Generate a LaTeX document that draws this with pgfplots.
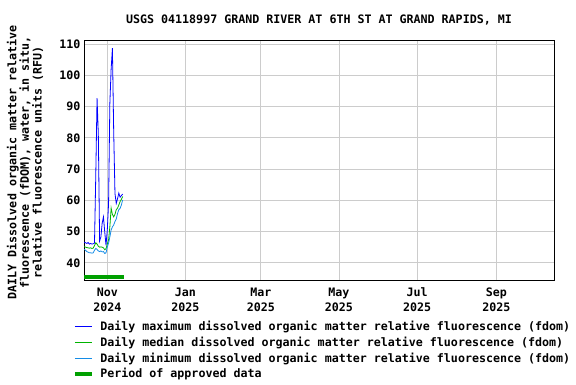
\documentclass[border=0pt]{standalone}
\usepackage{pgfplots}
\pgfplotsset{compat=1.18}
\usepackage{fontspec}
\setmainfont{DejaVu Sans Mono}
\definecolor{cmax}{RGB}{0,0,255}
\definecolor{cmed}{RGB}{0,180,0}
\definecolor{cmin}{RGB}{20,140,230}
\definecolor{capp}{RGB}{0,160,0}
\newcommand{\lf}{\fontsize{11.65}{15}\selectfont\bfseries}
\begin{document}
\begin{tikzpicture}
\begin{axis}[
  at={(0pt,0pt)}, anchor=south west,
  scale only axis, width=470pt, height=240pt,
  xmin=-18.2, xmax=349, ymin=34.5, ymax=111.3,
  xtick={0,61,120,181,242,304},
  xticklabels={\strut Nov\\2024,\strut Jan\\2025,\strut Mar\\2025,\strut May\\2025,\strut Jul\\2025,\strut Sep\\2025},
  xticklabel style={align=center, font=\lf, yshift=-2.5pt},
  ytick={40,50,60,70,80,90,100,110},
  yticklabel style={font=\lf},
  /pgf/number format/assume math mode=true,
  grid=major, major grid style={gray!40, line width=0.8pt},
  major tick length=0pt,
  axis line style={black, line width=0.9pt},
  every axis title shift=0pt,
  title={USGS 04118997 GRAND RIVER AT 6TH ST AT GRAND RAPIDS, MI},
  title style={font=\lf, at={(axis description cs:0.5,1.083)}, anchor=center, yshift=0pt},
  ylabel={DAILY Dissolved organic matter relative\\fluorescence (fDOM), water, in situ,\\relative fluorescence units (RFU)},
  ylabel style={font=\fontsize{11.65}{12.6}\selectfont\bfseries, align=center, at={(axis description cs:-0.1255,0.49)}, anchor=center},
  legend style={at={(axis description cs:-0.0235,-0.16)}, anchor=north west, draw=none, fill=none, font=\lf, inner sep=0pt, row sep=1pt, column sep=4.5pt, cells={anchor=west}},
  legend cell align=left,
  clip=true,
]
\addplot[cmax, line width=0.8pt] coordinates {
(-18,46.6) (-17,46.4) (-16,46.2) (-15,46.5) (-14,46.0) (-13,46.2) (-12,46.0) (-11,46.1) (-10,46.3)
(-9,68.0) (-8,92.7) (-7,81.0) (-6,47.0) (-5,48.3) (-4,52.7) (-3,54.7) (-2,49.9) (-1,45.6)
(0,50.5) (1,59.0) (2,91.0) (3,102.0) (4,108.7) (5,82.0) (6,62.2) (7,59.0) (8,60.5) (9,62.3) (10,61.0) (11,61.5) (12,62.0)};
\addlegendentry{Daily maximum dissolved organic matter relative fluorescence (fdom)}
\addplot[cmed, line width=0.8pt] coordinates {
(-18,45.2) (-17,45.0) (-16,44.9) (-15,44.8) (-14,44.7) (-13,44.8) (-12,44.6) (-11,44.7) (-10,45.5)
(-9,46.4) (-8,46.0) (-7,45.3) (-6,45.0) (-5,45.1) (-4,45.0) (-3,44.8) (-2,44.2) (-1,44.5)
(0,46.0) (1,47.3) (2,51.5) (3,57.5) (4,55.5) (5,54.7) (6,55.5) (7,57.0) (8,57.5) (9,58.5) (10,59.6) (11,60.3) (12,61.2)};
\addlegendentry{Daily median dissolved organic matter relative fluorescence (fdom)}
\addplot[cmin, line width=0.8pt] coordinates {
(-18,44.3) (-17,44.0) (-16,43.6) (-15,43.4) (-14,43.2) (-13,43.2) (-12,43.1) (-11,43.2) (-10,44.0)
(-9,44.6) (-8,44.3) (-7,43.8) (-6,43.6) (-5,43.8) (-4,43.5) (-3,43.6) (-2,43.0) (-1,43.2)
(0,45.1) (1,46.3) (2,48.3) (3,50.5) (4,51.5) (5,52.1) (6,53.2) (7,54.0) (8,55.8) (9,57.0) (10,57.4) (11,58.5) (12,60.1)};
\addlegendentry{Daily minimum dissolved organic matter relative fluorescence (fdom)}
\addplot[capp, line width=3.6pt] coordinates {(-18.2,35.4) (13,35.4)};
\addlegendentry{Period of approved data}
\end{axis}
\path[use as bounding box] (-84pt,-104pt) rectangle (492pt,280pt);
\end{tikzpicture}
\end{document}
